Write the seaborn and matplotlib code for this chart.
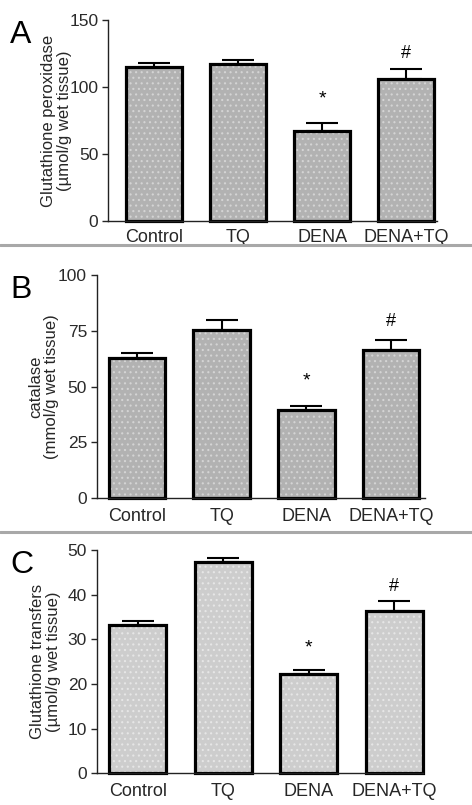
import numpy as np
import matplotlib
matplotlib.use('Agg')
import matplotlib.pyplot as plt
import seaborn as sns

groups = ['Control', 'TQ', 'DENA', 'DENA+TQ']

# panel A - glutathione peroxidase
gpx_mean = [115, 117, 67, 106]
gpx_err = [3, 3, 6, 7.5]
# panel B - catalase
cat_mean = [63, 75.2, 39.6, 66.4]
cat_err = [2, 4.8, 1.8, 4.3]
# panel C - glutathione transferase
gst_mean = [33.1, 47.2, 22.2, 36.4]
gst_err = [1.0, 1.0, 0.9, 2.2]

marks = ['', '', '*', '#']

sns.set_style('ticks')
plt.rcParams['font.family'] = ['Liberation Sans', 'DejaVu Sans']
plt.rcParams['hatch.linewidth'] = 0.8

fig = plt.figure(figsize=(4.72, 8.05), dpi=100)

panels = [
    dict(letter='A', mean=gpx_mean, err=gpx_err, ylim=(0, 150), ticks=[0, 50, 100, 150],
         ylabel='Glutathione peroxidase\n(µmol/g wet tissue)', face='#b2b2b2', dots='#d4d4d4',
         rect=[0.229, 0.7255, 0.697, 0.2497], xlim=(-0.55, 3.37), mark_off=(0.12, 0.075),
         label_x=-0.109, xpad=5.5),
    dict(letter='B', mean=cat_mean, err=cat_err, ylim=(0, 100), ticks=[0, 25, 50, 75, 100],
         ylabel='catalase\n(mmol/g wet tissue)', face='#b2b2b2', dots='#d4d4d4',
         rect=[0.205, 0.381, 0.695, 0.2774], xlim=(-0.476, 3.40), mark_off=(0.11, 0.085),
         label_x=-0.115, xpad=7),
    dict(letter='C', mean=gst_mean, err=gst_err, ylim=(0, 50), ticks=[0, 10, 20, 30, 40, 50],
         ylabel='Glutathione transfers\n(µmol/g wet tissue)', face='#cdcdcd', dots='#e6e6e6',
         rect=[0.205, 0.0394, 0.692, 0.2774], xlim=(-0.48, 3.34), mark_off=(0.10, 0.065),
         label_x=-0.108, xpad=7),
]

for p in panels:
    ax = fig.add_axes(p['rect'])
    sns.barplot(x=groups, y=p['mean'], color=p['face'], edgecolor=p['dots'], linewidth=0,
                hatch='...', width=0.67, saturation=1, ax=ax)
    sns.barplot(x=groups, y=p['mean'], fill=False, color='black', linewidth=2.3,
                width=0.67, ax=ax)
    for patch in ax.patches:
        patch.set_clip_on(False)
    xs = np.arange(len(groups))
    ax.errorbar(xs, p['mean'], yerr=[np.zeros(len(groups)), p['err']], fmt='none',
                ecolor='black', elinewidth=1.5, capsize=11.5, capthick=1.5, zorder=1)

    span = p['ylim'][1] - p['ylim'][0]
    for i, m in enumerate(marks):
        if m:
            top = p['mean'][i] + p['err'][i]
            off = p['mark_off'][0] if m == '*' else p['mark_off'][1]
            ax.text(xs[i], top + off * span, m, ha='center', va='center',
                    fontsize=14 if m == '*' else 13, color='black')

    ax.set_xlim(*p['xlim'])
    ax.set_ylim(*p['ylim'])
    ax.set_yticks(p['ticks'])
    ax.set_ylabel(p['ylabel'], fontsize=12, linespacing=1.1)
    ax.yaxis.set_label_coords(p['label_x'], 0.5)
    ax.set_xlabel('')
    ax.tick_params(axis='x', length=0, labelsize=13, pad=p['xpad'])
    ax.tick_params(axis='y', length=4, width=1, labelsize=12.5, labelcolor='#2a2a2a', pad=3)
    for s in ['top', 'right']:
        ax.spines[s].set_visible(False)
    for s in ['left', 'bottom']:
        ax.spines[s].set_linewidth(1.0)
        ax.spines[s].set_color('#222222')

    fig.text(0.021, p['rect'][1] + p['rect'][3], p['letter'], fontsize=23,
             ha='left', va='top', color='black')

# gray separators between panels
for yy in [1 - 245 / 805, 1 - 531.7 / 805]:
    fig.add_artist(plt.Line2D([0, 1], [yy, yy], color='#a8a8a8', linewidth=2.2,
                              transform=fig.transFigure))

fig.savefig('out.png', dpi=100, facecolor='white')
